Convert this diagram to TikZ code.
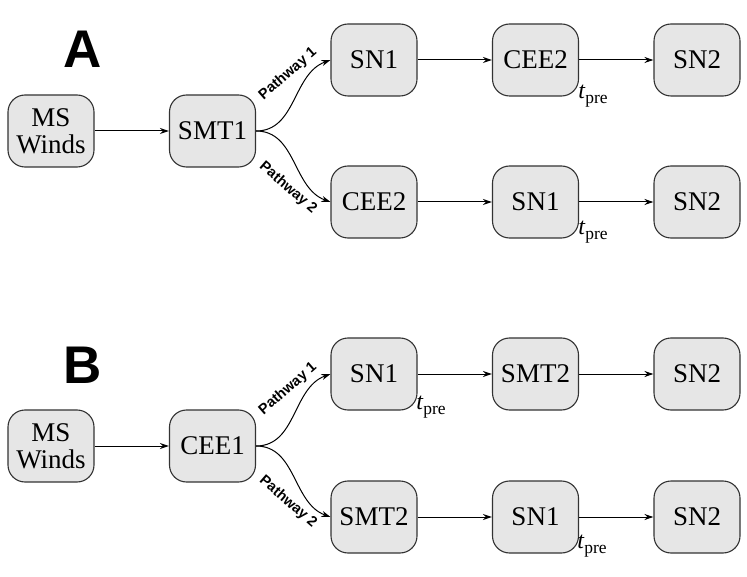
\documentclass[tikz,border=0pt]{standalone}
\usepackage{fontspec}
\setmainfont{Liberation Serif}
\newfontfamily\labfont{Liberation Sans}
\usetikzlibrary{arrows.meta}
\definecolor{boxfill}{HTML}{E6E6E6}
\definecolor{boxline}{HTML}{333333}
\tikzset{
 stage/.style={draw=boxline, fill=boxfill, line width=1.1pt, rounded corners=17pt, minimum width=86pt, minimum height=72pt, inner sep=0pt, align=center, font=\fontsize{27}{27}\selectfont},
 conn/.style={-{Stealth[length=9pt,width=6pt]}, line width=1pt, black},
 pathlab/.style={font=\labfont\bfseries\fontsize{14.5}{15}\selectfont, inner sep=0pt},
 panel/.style={font=\labfont\bfseries\fontsize{53}{53}\selectfont, inner sep=0pt},
 tpre/.style={font=\fontsize{24}{24}\selectfont, inner sep=0pt}
}
\newcommand{\tpretext}{\textit{t}\raisebox{-5.5pt}{\fontsize{17.5}{17.5}\selectfont pre}}
\begin{document}
\begin{tikzpicture}[x=1pt,y=-1pt]
\useasboundingbox (0,0) rectangle (747,577);
% Panel A
\node[panel] (labA) at (83,49) {A};
\node[stage] (amsw) at (51,131) {MS\\Winds};
\node[stage] (asmt) at (212.5,131) {SMT1};
\node[stage] (a1sn1) at (374,60) {SN1};
\node[stage] (a1cee) at (535.5,60) {CEE2};
\node[stage] (a1sn2) at (697,60) {SN2};
\node[stage] (a2cee) at (374,202) {CEE2};
\node[stage] (a2sn1) at (535.5,202) {SN1};
\node[stage] (a2sn2) at (697,202) {SN2};
\draw[conn] (amsw) -- (asmt);
\draw[conn] (asmt.east) to[out=0,in=200] (a1sn1.west);
\draw[conn] (asmt.east) to[out=0,in=160] (a2cee.west);
\draw[conn] (a1sn1) -- (a1cee);
\draw[conn] (a1cee) -- (a1sn2);
\draw[conn] (a2cee) -- (a2sn1);
\draw[conn] (a2sn1) -- (a2sn2);
\node[pathlab, rotate=41] (ap1) at (288,74) {Pathway 1};
\node[pathlab, rotate=-41] (ap2) at (288,188) {Pathway 2};
\node[tpre] (at1) at (593,96) {\tpretext};
\node[tpre] (at2) at (593,232) {\tpretext};
% Panel B
\node[panel] (labB) at (83,365) {B};
\node[stage] (bmsw) at (51,446) {MS\\Winds};
\node[stage] (bcee) at (212.5,446) {CEE1};
\node[stage] (b1sn1) at (374,374) {SN1};
\node[stage] (b1smt) at (535.5,374) {SMT2};
\node[stage] (b1sn2) at (697,374) {SN2};
\node[stage] (b2smt) at (374,517) {SMT2};
\node[stage] (b2sn1) at (535.5,517) {SN1};
\node[stage] (b2sn2) at (697,517) {SN2};
\draw[conn] (bmsw) -- (bcee);
\draw[conn] (bcee.east) to[out=0,in=200] (b1sn1.west);
\draw[conn] (bcee.east) to[out=0,in=160] (b2smt.west);
\draw[conn] (b1sn1) -- (b1smt);
\draw[conn] (b1smt) -- (b1sn2);
\draw[conn] (b2smt) -- (b2sn1);
\draw[conn] (b2sn1) -- (b2sn2);
\node[pathlab, rotate=41] (bp1) at (288,389) {Pathway 1};
\node[pathlab, rotate=-41] (bp2) at (288,502) {Pathway 2};
\node[tpre] (bt1) at (431,407) {\tpretext};
\node[tpre] (bt2) at (592,546) {\tpretext};
\end{tikzpicture}
\end{document}
